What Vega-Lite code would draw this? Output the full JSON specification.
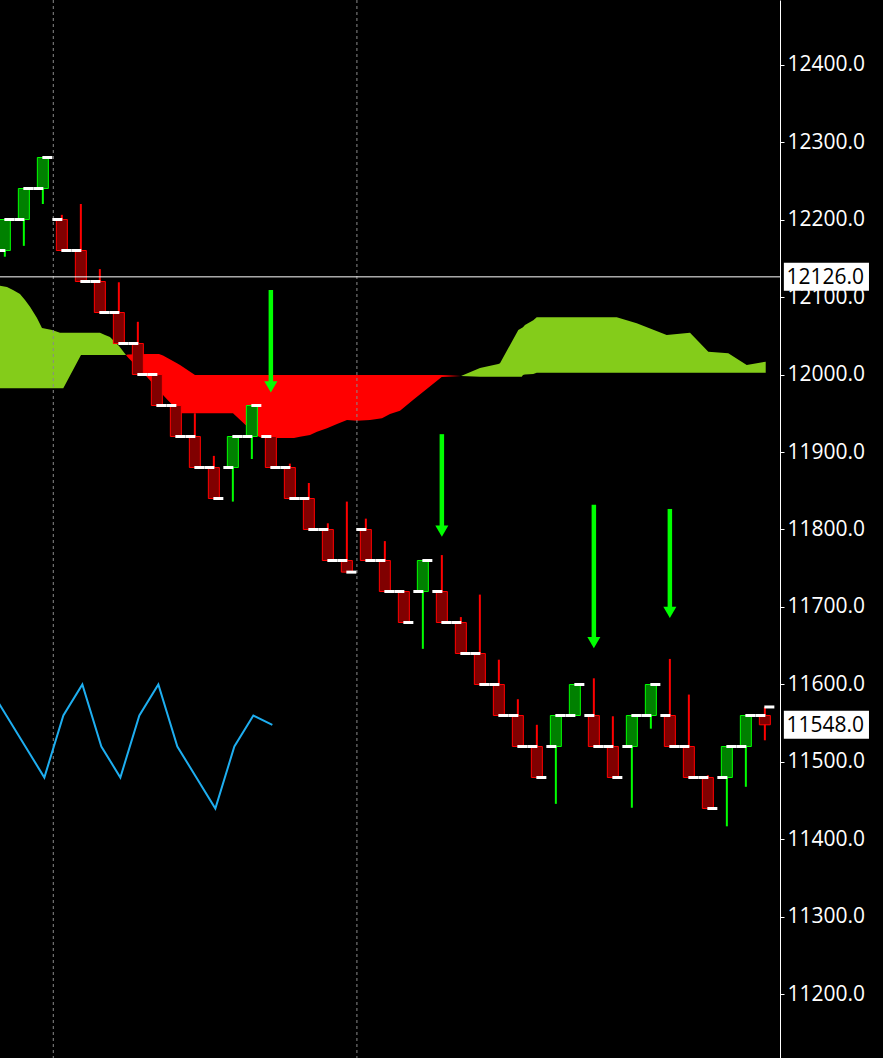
{
  "$schema": "https://vega.github.io/schema/vega-lite/v6.json",
  "width": 780,
  "height": 1058,
  "autosize": {"type": "none"},
  "padding": {"left": 0, "top": 0, "right": 103, "bottom": 0},
  "background": "#000000",
  "config": {
    "view": {"stroke": null},
    "axisY": {"title": null,
      "format": ".1f", "labelFont": "Open Sans", "labelFontSize": 21, "labelColor": "#ffffff", "labelPadding": 3,
      "labelOverlap": false, "tickColor": "#ffffff", "tickSize": 4, "domainColor": "#ffffff", "domainWidth": 1, "grid": false, "orient": "right"},
    "axisX": {"disable": true}
  },
  "datasets": {
    "cloud": [
      {"seg": "g1", "i": -0.255, "a": 12114.6, "b": 11982.2},
      {"seg": "g1", "i": 0.113, "a": 12112.9, "b": 11982.2},
      {"seg": "g1", "i": 0.429, "a": 12109.0, "b": 11982.2},
      {"seg": "g1", "i": 0.797, "a": 12103.9, "b": 11982.2},
      {"seg": "g1", "i": 1.061, "a": 12096.1, "b": 11982.2},
      {"seg": "g1", "i": 1.324, "a": 12087.5, "b": 11982.2},
      {"seg": "g1", "i": 1.692, "a": 12072.9, "b": 11982.2},
      {"seg": "g1", "i": 1.955, "a": 12060.0, "b": 11982.2},
      {"seg": "g1", "i": 2.482, "a": 12057.4, "b": 11982.2},
      {"seg": "g1", "i": 2.903, "a": 12053.9, "b": 11982.2},
      {"seg": "g1", "i": 3.076, "a": 12053.9, "b": 11982.2},
      {"seg": "g1", "i": 4.008, "a": 12053.9, "b": 12025.2},
      {"seg": "g1", "i": 5.008, "a": 12053.9, "b": 12025.2},
      {"seg": "g1", "i": 5.271, "a": 12051.0, "b": 12025.2},
      {"seg": "g1", "i": 5.534, "a": 12048.4, "b": 12025.2},
      {"seg": "g1", "i": 6.008, "a": 12036.8, "b": 12025.2},
      {"seg": "g1", "i": 6.376, "a": 12025.2, "b": 12025.2},
      {"seg": "r", "i": 6.376, "a": 12025.2, "b": 12025.2},
      {"seg": "r", "i": 6.482, "a": 12021.9, "b": 12025.8},
      {"seg": "r", "i": 7.482, "a": 11996.8, "b": 12026.5},
      {"seg": "r", "i": 8.113, "a": 11979.4, "b": 12026.5},
      {"seg": "r", "i": 8.324, "a": 11973.5, "b": 12024.5},
      {"seg": "r", "i": 9.061, "a": 11954.2, "b": 12014.5},
      {"seg": "r", "i": 9.219, "a": 11949.9, "b": 12012.3},
      {"seg": "r", "i": 10.008, "a": 11949.9, "b": 11999.4},
      {"seg": "r", "i": 12.008, "a": 11949.9, "b": 11999.4},
      {"seg": "r", "i": 13.271, "a": 11921.0, "b": 11999.4},
      {"seg": "r", "i": 13.534, "a": 11918.1, "b": 11999.4},
      {"seg": "r", "i": 15.218, "a": 11918.1, "b": 11999.4},
      {"seg": "r", "i": 15.534, "a": 11919.7, "b": 11999.4},
      {"seg": "r", "i": 16.061, "a": 11921.9, "b": 11999.4},
      {"seg": "r", "i": 16.429, "a": 11926.2, "b": 11999.4},
      {"seg": "r", "i": 16.955, "a": 11930.6, "b": 11999.4},
      {"seg": "r", "i": 17.482, "a": 11936.1, "b": 11999.4},
      {"seg": "r", "i": 18.008, "a": 11941.3, "b": 11999.4},
      {"seg": "r", "i": 18.534, "a": 11940.4, "b": 11999.4},
      {"seg": "r", "i": 19.218, "a": 11941.3, "b": 11999.4},
      {"seg": "r", "i": 19.85, "a": 11943.5, "b": 11999.4},
      {"seg": "r", "i": 20.271, "a": 11949.0, "b": 11999.4},
      {"seg": "r", "i": 20.797, "a": 11953.3, "b": 11999.4},
      {"seg": "r", "i": 21.482, "a": 11967.1, "b": 11999.4},
      {"seg": "r", "i": 22.992, "a": 11996.8, "b": 11999.4},
      {"seg": "r", "i": 24.008, "a": 11998.1, "b": 11998.1},
      {"seg": "g2", "i": 24.008, "a": 11998.1, "b": 11998.1},
      {"seg": "g2", "i": 25.008, "a": 12008.4, "b": 11997.2},
      {"seg": "g2", "i": 25.971, "a": 12013.5, "b": 11997.2},
      {"seg": "g2", "i": 26.061, "a": 12014.5, "b": 11997.2},
      {"seg": "g2", "i": 27.024, "a": 12057.4, "b": 11997.2},
      {"seg": "g2", "i": 27.203, "a": 12060.0, "b": 11997.2},
      {"seg": "g2", "i": 27.271, "a": 12061.0, "b": 11999.4},
      {"seg": "g2", "i": 27.374, "a": 12063.9, "b": 12000.0},
      {"seg": "g2", "i": 27.813, "a": 12070.0, "b": 12000.6},
      {"seg": "g2", "i": 27.992, "a": 12073.8, "b": 12002.3},
      {"seg": "g2", "i": 32.203, "a": 12073.8, "b": 12002.3},
      {"seg": "g2", "i": 33.256, "a": 12066.1, "b": 12002.3},
      {"seg": "g2", "i": 34.834, "a": 12051.0, "b": 12002.3},
      {"seg": "g2", "i": 36.061, "a": 12053.9, "b": 12002.3},
      {"seg": "g2", "i": 37.024, "a": 12029.4, "b": 12002.3},
      {"seg": "g2", "i": 38.076, "a": 12027.4, "b": 12002.3},
      {"seg": "g2", "i": 39.045, "a": 12012.3, "b": 12002.3},
      {"seg": "g2", "i": 40.045, "a": 12016.5, "b": 12002.3}
    ],
    "candles": [
      {"i": 0, "d": "u", "o": 12160, "c": 12200, "h": 12200, "l": 12152, "t": 12200},
      {"i": 1, "d": "u", "o": 12200, "c": 12240, "h": 12240, "l": 12166, "t": 12240},
      {"i": 2, "d": "u", "o": 12240, "c": 12280, "h": 12280, "l": 12220, "t": 12280},
      {"i": 3, "d": "d", "o": 12200, "c": 12160, "h": 12206, "l": 12160, "t": 12160},
      {"i": 4, "d": "d", "o": 12160, "c": 12120, "h": 12220, "l": 12120, "t": 12120},
      {"i": 5, "d": "d", "o": 12120, "c": 12080, "h": 12136, "l": 12080, "t": 12080},
      {"i": 6, "d": "d", "o": 12080, "c": 12040, "h": 12119, "l": 12040, "t": 12040},
      {"i": 7, "d": "d", "o": 12040, "c": 12000, "h": 12068, "l": 12000, "t": 12000},
      {"i": 8, "d": "d", "o": 12000, "c": 11960, "h": 12000, "l": 11960, "t": 11960},
      {"i": 9, "d": "d", "o": 11960, "c": 11920, "h": 11960, "l": 11920, "t": 11920},
      {"i": 10, "d": "d", "o": 11920, "c": 11880, "h": 11950, "l": 11880, "t": 11880},
      {"i": 11, "d": "d", "o": 11880, "c": 11840, "h": 11895, "l": 11840, "t": 11840},
      {"i": 12, "d": "u", "o": 11880, "c": 11920, "h": 11920, "l": 11836, "t": 11920},
      {"i": 13, "d": "u", "o": 11920, "c": 11960, "h": 11960, "l": 11891, "t": 11960},
      {"i": 14, "d": "d", "o": 11920, "c": 11880, "h": 11920, "l": 11880, "t": 11880},
      {"i": 15, "d": "d", "o": 11880, "c": 11840, "h": 11885, "l": 11840, "t": 11840},
      {"i": 16, "d": "d", "o": 11840, "c": 11800, "h": 11860, "l": 11800, "t": 11800},
      {"i": 17, "d": "d", "o": 11800, "c": 11760, "h": 11808, "l": 11760, "t": 11760},
      {"i": 18, "d": "d", "o": 11760, "c": 11745, "h": 11836, "l": 11745, "t": 11745},
      {"i": 19, "d": "d", "o": 11800, "c": 11760, "h": 11814, "l": 11760, "t": 11760},
      {"i": 20, "d": "d", "o": 11760, "c": 11720, "h": 11785, "l": 11720, "t": 11720},
      {"i": 21, "d": "d", "o": 11720, "c": 11680, "h": 11720, "l": 11680, "t": 11680},
      {"i": 22, "d": "u", "o": 11720, "c": 11760, "h": 11760, "l": 11646, "t": 11760},
      {"i": 23, "d": "d", "o": 11720, "c": 11680, "h": 11767, "l": 11680, "t": 11680},
      {"i": 24, "d": "d", "o": 11680, "c": 11640, "h": 11687, "l": 11640, "t": 11640},
      {"i": 25, "d": "d", "o": 11640, "c": 11600, "h": 11716, "l": 11600, "t": 11600},
      {"i": 26, "d": "d", "o": 11600, "c": 11560, "h": 11632, "l": 11560, "t": 11560},
      {"i": 27, "d": "d", "o": 11560, "c": 11520, "h": 11581, "l": 11520, "t": 11520},
      {"i": 28, "d": "d", "o": 11520, "c": 11480, "h": 11548, "l": 11480, "t": 11480},
      {"i": 29, "d": "u", "o": 11520, "c": 11560, "h": 11560, "l": 11446, "t": 11560},
      {"i": 30, "d": "u", "o": 11560, "c": 11600, "h": 11600, "l": 11560, "t": 11600},
      {"i": 31, "d": "d", "o": 11560, "c": 11520, "h": 11608, "l": 11520, "t": 11520},
      {"i": 32, "d": "d", "o": 11520, "c": 11480, "h": 11559, "l": 11480, "t": 11480},
      {"i": 33, "d": "u", "o": 11520, "c": 11560, "h": 11560, "l": 11441, "t": 11560},
      {"i": 34, "d": "u", "o": 11560, "c": 11600, "h": 11600, "l": 11543, "t": 11600},
      {"i": 35, "d": "d", "o": 11560, "c": 11520, "h": 11633, "l": 11520, "t": 11520},
      {"i": 36, "d": "d", "o": 11520, "c": 11480, "h": 11587, "l": 11480, "t": 11480},
      {"i": 37, "d": "d", "o": 11480, "c": 11440, "h": 11483, "l": 11440, "t": 11440},
      {"i": 38, "d": "u", "o": 11480, "c": 11520, "h": 11520, "l": 11417, "t": 11520},
      {"i": 39, "d": "u", "o": 11520, "c": 11560, "h": 11560, "l": 11468, "t": 11560},
      {"i": 40, "d": "d", "o": 11560, "c": 11548, "h": 11571, "l": 11528, "t": 11571}
    ],
    "chikou": [
      {"i": -1, "p": 11600}, {"i": 0, "p": 11560}, {"i": 1, "p": 11520}, {"i": 2, "p": 11480},
      {"i": 3, "p": 11560}, {"i": 4, "p": 11600}, {"i": 5, "p": 11520}, {"i": 6, "p": 11480},
      {"i": 7, "p": 11560}, {"i": 8, "p": 11600}, {"i": 9, "p": 11520}, {"i": 10, "p": 11480},
      {"i": 11, "p": 11440}, {"i": 12, "p": 11520}, {"i": 13, "p": 11560}, {"i": 14, "p": 11548}
    ],
    "arrows": [
      {"i": 14, "top": 12109, "head": 11984},
      {"i": 23, "top": 11923, "head": 11798},
      {"i": 31, "top": 11832, "head": 11654},
      {"i": 35, "top": 11826.5, "head": 11693}
    ],
    "seps": [{"i": 2.55}, {"i": 18.53}],
    "tags": [
      {"v": 12126, "s": "12126.0", "x": 41.0, "x2": 45.48, "tx": 41.14},
      {"v": 11548, "s": "11548.0", "x": 41.0, "x2": 45.48, "tx": 41.14}
    ]
  },
  "encoding": {
    "x": {"field": "i", "type": "quantitative", "scale": {"domain": [-0.255, 40.797], "nice": false, "zero": false, "padding": 0}}
  },
  "layer": [
    {
      "data": {"name": "cloud"},
      "transform": [{"filter": "datum.seg !== 'r'"}],
      "mark": {"type": "area", "color": "#84cc1a", "clip": true},
      "encoding": {
        "y": {"field": "a", "type": "quantitative", "title": null,
          "scale": {"domain": [11118.06, 12483.23], "nice": false, "zero": false, "padding": 0},
          "axis": {"values": [11200, 11300, 11400, 11500, 11600, 11700, 11800, 11900, 12000, 12100, 12200, 12300, 12400]}},
        "y2": {"field": "b"},
        "detail": {"field": "seg"}
      }
    },
    {
      "data": {"name": "cloud"},
      "transform": [{"filter": "datum.seg === 'r'"}],
      "mark": {"type": "area", "color": "#ff0000", "clip": true},
      "encoding": {
        "y": {"field": "a", "type": "quantitative", "title": null},
        "y2": {"field": "b"}
      }
    },
    {
      "data": {"name": "seps"},
      "mark": {"type": "rule", "color": "#8a8a8a", "strokeWidth": 1, "strokeDash": [3, 3]},
      "encoding": {}
    },
    {
      "data": {"name": "chikou"},
      "mark": {"type": "line", "color": "#1eaef0", "strokeWidth": 2, "clip": true, "xOffset": 1.5},
      "encoding": {
        "y": {"field": "p", "type": "quantitative", "title": null}
      }
    },
    {
      "data": {"name": "candles"},
      "transform": [{"filter": "datum.d === 'd'"}],
      "mark": {"type": "rule", "color": "#ff0000", "strokeWidth": 2},
      "encoding": {
        "y": {"field": "h", "type": "quantitative", "title": null},
        "y2": {"field": "l"}
      }
    },
    {
      "data": {"name": "candles"},
      "transform": [{"filter": "datum.d === 'u'"}],
      "mark": {"type": "rule", "color": "#00ff00", "strokeWidth": 2},
      "encoding": {
        "y": {"field": "h", "type": "quantitative", "title": null},
        "y2": {"field": "l"}
      }
    },
    {
      "data": {"name": "candles"},
      "transform": [{"filter": "datum.d === 'd'"}],
      "mark": {"type": "bar", "width": 11, "fill": "#800000", "stroke": "#ff0000", "strokeWidth": 1},
      "encoding": {
        "y": {"field": "o", "type": "quantitative", "title": null},
        "y2": {"field": "c"}
      }
    },
    {
      "data": {"name": "candles"},
      "transform": [{"filter": "datum.d === 'u'"}],
      "mark": {"type": "bar", "width": 11, "fill": "#008000", "stroke": "#00ff00", "strokeWidth": 1},
      "encoding": {
        "y": {"field": "o", "type": "quantitative", "title": null},
        "y2": {"field": "c"}
      }
    },
    {
      "data": {"name": "candles"},
      "mark": {"type": "tick", "orient": "horizontal", "color": "#ffffff", "size": 10, "thickness": 3, "xOffset": -4.5, "opacity": 1},
      "encoding": {
        "y": {"field": "o", "type": "quantitative", "title": null}
      }
    },
    {
      "data": {"name": "candles"},
      "mark": {"type": "tick", "orient": "horizontal", "color": "#ffffff", "size": 10, "thickness": 3, "xOffset": 4.5, "opacity": 1},
      "encoding": {
        "y": {"field": "t", "type": "quantitative", "title": null}
      }
    },
    {
      "data": {"values": [{"v": 12126}]},
      "mark": {"type": "rule", "color": "#ffffff", "strokeWidth": 1},
      "encoding": {"x": null, "y": {"field": "v", "type": "quantitative", "title": null}}
    },
    {
      "data": {"name": "arrows"},
      "mark": {"type": "rule", "color": "#00ff00", "strokeWidth": 4.5},
      "encoding": {
        "y": {"field": "top", "type": "quantitative", "title": null},
        "y2": {"field": "head"}
      }
    },
    {
      "data": {"name": "arrows"},
      "mark": {"type": "point", "shape": "triangle-down", "filled": true, "size": 170, "color": "#00ff00", "opacity": 1},
      "encoding": {
        "y": {"field": "head", "type": "quantitative", "title": null}
      }
    },
    {
      "data": {"name": "tags"},
      "mark": {"type": "bar", "color": "#ffffff", "size": 28, "orient": "horizontal"},
      "encoding": {
        "x": {"field": "x", "type": "quantitative"},
        "x2": {"field": "x2"},
        "y": {"field": "v", "type": "quantitative", "title": null}
      }
    },
    {
      "data": {"name": "tags"},
      "mark": {"type": "text", "color": "#000000", "font": "Open Sans", "fontSize": 21, "align": "left", "baseline": "middle", "dy": 1},
      "encoding": {
        "x": {"field": "tx", "type": "quantitative"},
        "y": {"field": "v", "type": "quantitative", "title": null},
        "text": {"field": "s"}
      }
    }
  ]
}
